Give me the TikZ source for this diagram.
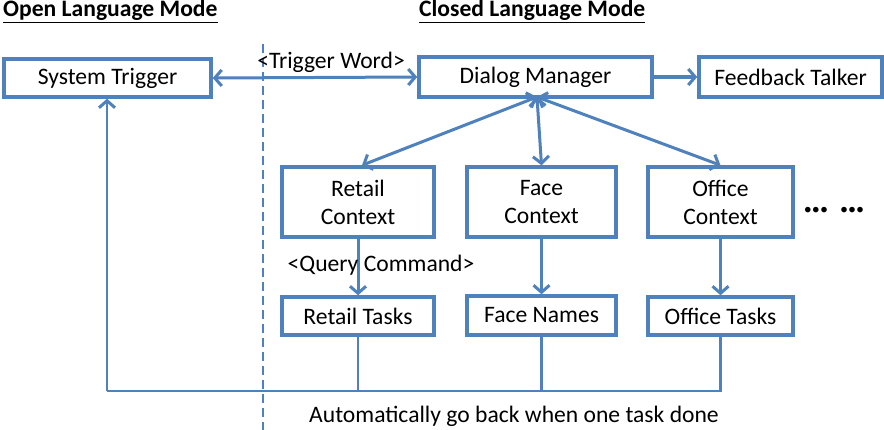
\documentclass[tikz,border=0pt]{standalone}
\usepackage{fontspec}
\setmainfont{Carlito}
\usetikzlibrary{arrows.meta}
\definecolor{obl}{HTML}{4F81BD}
\begin{document}
\begin{tikzpicture}[x=1pt,y=-1pt,
  box/.style={draw=obl, line width=3.5pt, fill=white, inner sep=0pt, align=center,
    font=\fontsize{23.6}{28}\selectfont},
  conn/.style={draw=obl, line width=3pt},
  tip/.style={-{Straight Barb[length=7pt,width=16pt,line width=3pt]}},
  tips/.style={{Straight Barb[length=7pt,width=16pt,line width=3pt]}-{Straight Barb[length=7pt,width=16pt,line width=3pt]}},
  lbl/.style={font=\fontsize{23.6}{28}\selectfont, inner sep=0pt},
  hdr/.style={font=\fontsize{23.6}{28}\selectfont\bfseries, inner sep=0pt, anchor=base west}]
\useasboundingbox (0,0) rectangle (884,430);
\fill[white] (0,0) rectangle (884,430);
% headers
\node[hdr] (h1) at (3,17) {\underline{Open Language Mode}};
\node[hdr] (h2) at (419,17) {\underline{Closed Language Mode}};
% dashed separator
\coordinate (dtop) at (263,44);
\coordinate (dbot) at (263,430);
\draw[draw=obl, line width=2pt, dash pattern=on 9pt off 5pt] (dtop) -- (dbot);
% boxes
\node[box, minimum width=207pt, minimum height=38pt] (st) at (107.5,78) {System Trigger};
\node[box, minimum width=233pt, minimum height=40pt] (dm) at (535.5,77) {Dialog Manager};
\node[box, minimum width=183pt, minimum height=40pt] (ft) at (790.5,77) {Feedback Talker};
\node[box, minimum width=152pt, minimum height=70pt] (rc) at (358,202) {Retail\\Context};
\node[box, minimum width=149pt, minimum height=70pt] (fc) at (541.5,202) {Face\\Context};
\node[box, minimum width=145pt, minimum height=70pt] (oc) at (720.5,202) {Office\\Context};
\node[box, minimum width=152pt, minimum height=38pt] (rt) at (358,316) {Retail Tasks};
\node[box, minimum width=149pt, minimum height=39pt] (fn) at (541.5,315.5) {Face Names};
\node[box, minimum width=145pt, minimum height=38pt] (ot) at (720.5,316) {Office Tasks};
\node[font=\fontsize{30}{34}\selectfont\bfseries, inner sep=0pt] (dots) at (834,213) {···\hspace{12pt}···};
% trigger arrow
\draw[conn, tips] (st.east) -- (dm.west);
\node[lbl] (tw) at (331,62) {<Trigger Word>};
\draw[conn, tip, line width=4pt] (dm.east) -- (ft.west);
% DM to contexts
\coordinate (dmb) at (537,97);
\draw[conn, tips] (dmb) -- ([xshift=4pt]rc.north);
\draw[conn, tips] (dmb) -- (fc.north);
\draw[conn, tips] (dmb) -- (oc.north);
% contexts to tasks
\draw[conn, tip] (rc.south) -- (rt.north);
\draw[conn, tip] (fc.south) -- (fn.north);
\draw[conn, tip] (oc.south) -- (ot.north);
\node[lbl] (qc) at (381,265) {<Query Command>};
% return path
\coordinate (bl) at (107,391);
\draw[conn, line width=2.6pt] (rt.south) |- (bl);
\draw[conn, line width=2.6pt] (fn.south) -- (fn.south |- bl);
\draw[conn, line width=2.6pt] (ot.south) |- (bl);
\draw[conn, tip, line width=2.6pt] (bl) -- (st.south -| bl);
\node[lbl] (auto) at (514,416) {Automatically go back when one task done};
\end{tikzpicture}
\end{document}
